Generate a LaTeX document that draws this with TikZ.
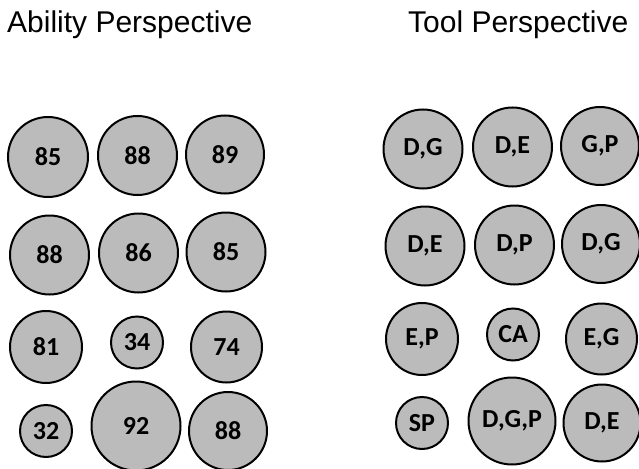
\documentclass[tikz,border=0pt]{standalone}
\usepackage{fontspec}
\setmainfont{Liberation Sans}
\newfontfamily\lblfont{Carlito}
\definecolor{bubblefill}{RGB}{187,187,187}
\begin{document}
\begin{tikzpicture}[x=1pt,y=-1pt,
  bubble/.style={circle,draw=black,fill=bubblefill,line width=2pt,inner sep=0pt,
    font=\lblfont\bfseries\fontsize{26}{30}\selectfont},
  title/.style={anchor=base west,inner sep=0pt,font=\fontsize{30}{34}\selectfont}]
\useasboundingbox (0,0) rectangle (639,468);
\node[title] (t1) at (7,33) {Ability Perspective};
\node[title] (t2) at (408,33) {Tool Perspective};
\newcommand{\bub}[5]{\node[bubble,minimum size=#4*2pt] (#1) at (#2,#3) {\raisebox{-3pt}{#5}};}
% left
\bub{a1}{48}{157}{40}{85}
\bub{a2}{137.5}{155.5}{39.5}{88}
\bub{a3}{225}{154.5}{39}{89}
\bub{a4}{49.5}{255}{39.5}{88}
\bub{a5}{138.5}{253}{39.5}{86}
\bub{a6}{226}{252}{39.5}{85}
\bub{a7}{46}{347}{36}{81}
\bub{a8}{137}{342.5}{26}{34}
\bub{a9}{226.5}{347}{35.5}{74}
\bub{a10}{46}{431}{26}{32}
\bub{a11}{136}{426}{44.5}{92}
\bub{a12}{228}{431}{39}{88}
% right
\bub{b1}{423}{149}{39.5}{D,G}
\bub{b2}{512.5}{147}{39.5}{D,E}
\bub{b3}{600}{146}{39}{G,P}
\bub{b4}{425}{246}{39.5}{D,E}
\bub{b5}{514.5}{245}{39.5}{D,P}
\bub{b6}{601}{244}{39}{D,G}
\bub{b7}{422}{339}{36}{E,P}
\bub{b8}{513}{334.5}{26}{CA}
\bub{b9}{601.5}{339}{35.5}{E,G}
\bub{b10}{422}{423}{26}{SP}
\bub{b11}{512}{421}{43.5}{D,G,P}
\bub{b12}{602}{423}{38.5}{D,E}
\end{tikzpicture}
\end{document}
